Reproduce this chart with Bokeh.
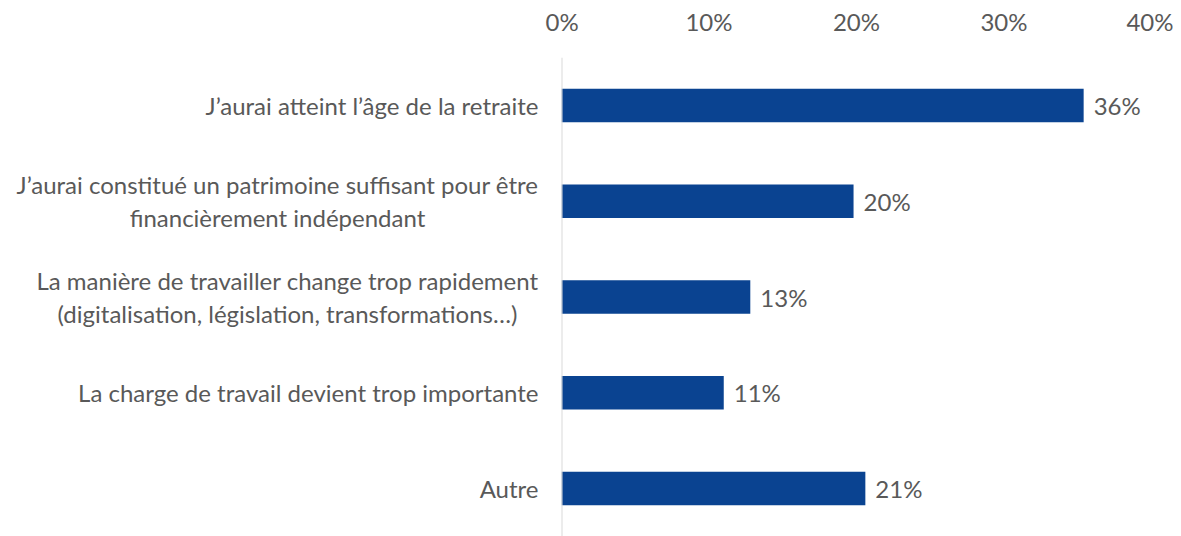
from bokeh.plotting import figure
from bokeh.layouts import row
from bokeh.models import ColumnDataSource, FactorRange, Range1d, NumeralTickFormatter, FixedTicker
from bokeh.core.properties import value
from bokeh.embed import file_html
from bokeh.resources import INLINE

categories = [
    "J\u2019aurai atteint l\u2019\u00e2ge de la retraite",
    "J\u2019aurai constitu\u00e9 un patrimoine suffisant pour \u00eatre\nfinanci\u00e8rement ind\u00e9pendant",
    "La mani\u00e8re de travailler change trop rapidement\n(digitalisation, l\u00e9gislation, transformations\u2026)",
    "La charge de travail devient trop importante",
    "Autre",
]
values = [0.354, 0.198, 0.128, 0.110, 0.206]
labels = ["36%", "20%", "13%", "11%", "21%"]
ticks = [0, 0.1, 0.2, 0.3, 0.4]

FONT = "Lato"
GRAY = "#595959"
FS = "24px"
LEFT_W = 545

yr = FactorRange(factors=list(reversed(categories)))

# ---- left panel: category labels (single lines right-aligned, two-line blocks centred)
label_x = [538, 277, 287, 538, 538]
label_align = ["right", "center", "center", "right", "right"]
lsrc = ColumnDataSource(dict(cat=categories, x=label_x, align=label_align))
pl = figure(width=LEFT_W, height=536, y_range=yr, x_range=Range1d(0, LEFT_W),
            x_axis_type=None, y_axis_type=None,
            output_backend="svg", toolbar_location=None,
            min_border_left=0, min_border_right=0, min_border_top=57, min_border_bottom=0)
pl.outline_line_color = None
pl.xgrid.visible = False
pl.ygrid.visible = False
pl.text(x="x", y="cat", text="cat", source=lsrc, text_align="align",
        text_baseline="middle", text_font=value(FONT), text_font_size=FS,
        text_color=GRAY, text_line_height=1.15)

# ---- main panel: bars
src = ColumnDataSource(dict(cat=categories, val=values, lab=labels))
p = figure(
    width=1173 - LEFT_W, height=536,
    y_range=yr, x_range=Range1d(0, 0.4),
    x_axis_location="above", y_axis_location=None,
    output_backend="svg", toolbar_location=None,
    min_border_left=561 - LEFT_W, min_border_right=22, min_border_top=57, min_border_bottom=0,
)
p.hbar(y="cat", right="val", left=0, height=0.35, source=src,
       fill_color="#0a4391", line_color=None)
p.text(x="val", y="cat", text="lab", source=src, x_offset=10,
       text_align="left", text_baseline="middle",
       text_font=value(FONT), text_font_size=FS, text_color=GRAY)
p.segment(x0=[0], y0=[0], x1=[0], y1=[len(categories)], line_color="#d9d9d9", line_width=2)

p.xgrid.visible = False
p.ygrid.visible = False
p.outline_line_color = None

xa = p.xaxis[0]
xa.ticker = FixedTicker(ticks=ticks)
xa.formatter = NumeralTickFormatter(format="0%")
xa.axis_line_color = None
xa.major_tick_line_color = None
xa.minor_tick_line_color = None
xa.major_label_text_font = FONT
xa.major_label_text_font_size = FS
xa.major_label_text_color = GRAY
xa.major_label_standoff = 16

open("out.html", "w").write(file_html(row(pl, p, spacing=0), INLINE))
